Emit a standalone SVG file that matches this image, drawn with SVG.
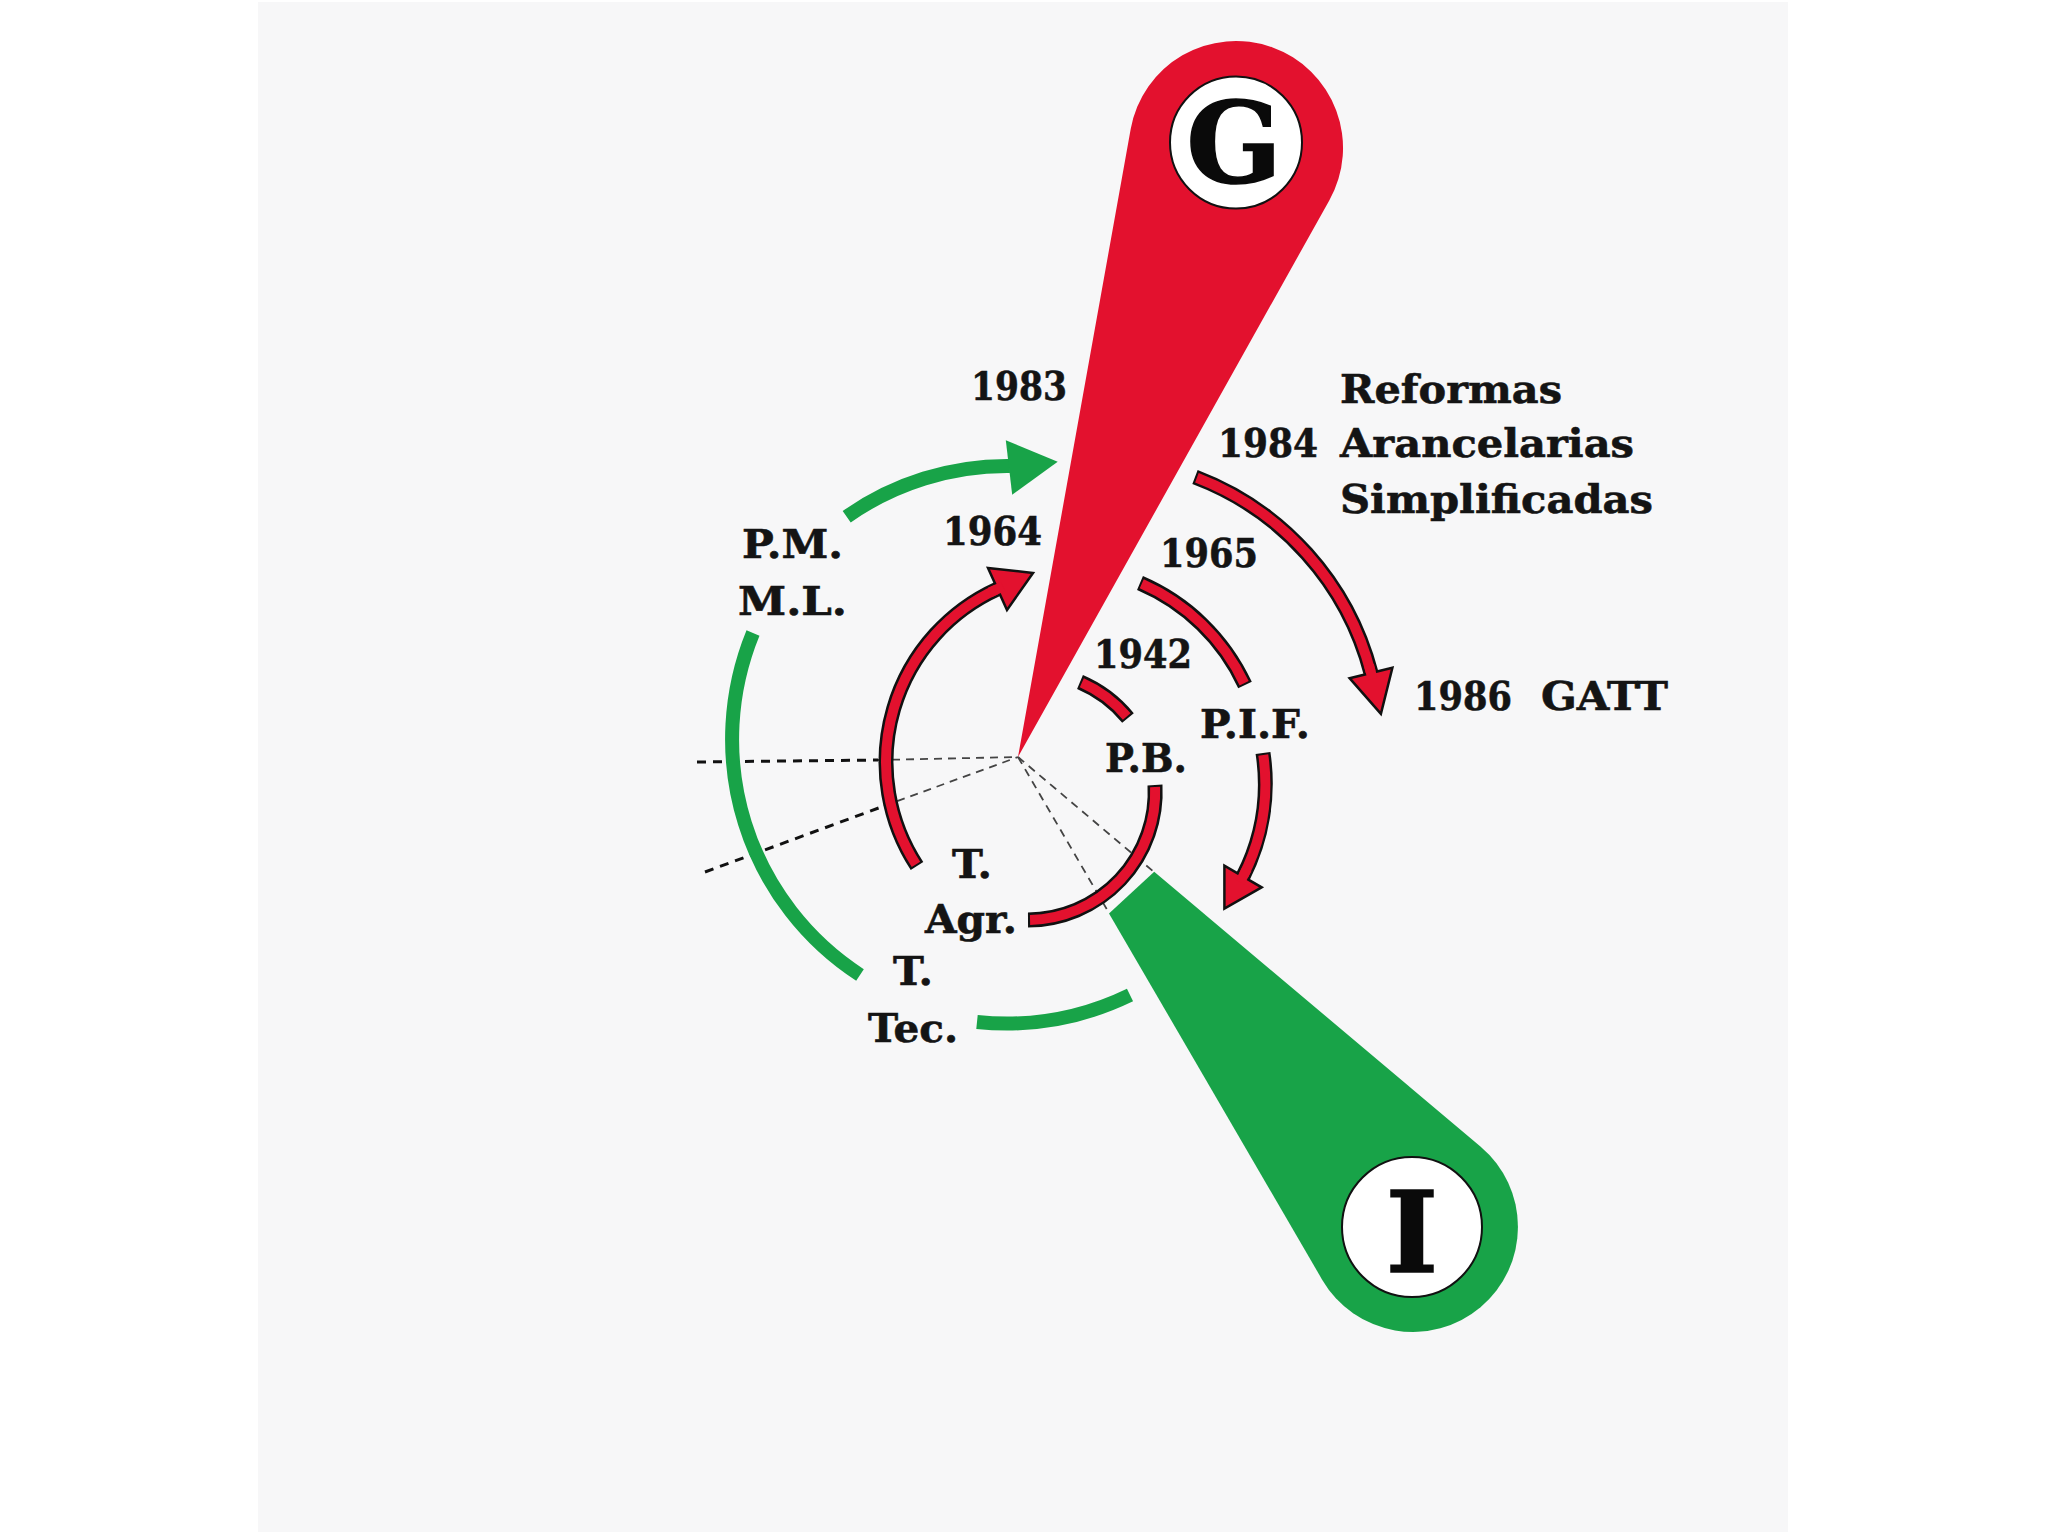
<svg xmlns="http://www.w3.org/2000/svg" width="2048" height="1536" viewBox="0 0 2048 1536">
<defs>
<style>
.lbl{font-family:"DejaVu Serif","Liberation Serif",serif;font-weight:bold;font-size:40px;fill:#141414;stroke:#141414;stroke-width:0.6}
.big{font-family:"DejaVu Serif","Liberation Serif",serif;font-weight:bold;font-size:112px;fill:#0a0a0a;stroke:#0a0a0a;stroke-width:1.5;text-anchor:middle}
.dashO{fill:none;stroke:#111;stroke-width:3;stroke-dasharray:9 7}
.dashI{fill:none;stroke:#444;stroke-width:1.8;stroke-dasharray:8 6}
.gArc{fill:none;stroke:#18a348;stroke-width:14}
.rOut{fill:none;stroke:#111;stroke-width:15}
.rIn{fill:none;stroke:#e3112e;stroke-width:10}
.rHead{fill:#e3112e;stroke:#111;stroke-width:2.5;stroke-linejoin:miter}
</style>
</defs>
<rect x="0" y="0" width="2048" height="1536" fill="#ffffff"/>
<rect x="258" y="2" width="1530" height="1530" fill="#f7f7f8"/>

<g id="guides">
<path class="dashO" d="M697,762 L878,760"/>
<path class="dashI" d="M878,760 L1018,757"/>
<path class="dashO" d="M705,872 L884,806"/>
<path class="dashI" d="M884,806 L1018,757"/>
<path class="dashI" d="M1018,757 L1109,913"/>
<path class="dashI" d="M1018,757 L1154,872"/>
</g>

<g id="node-I">
<path d="M1109,913.4 L1322.3,1279.9 A105,105 0 1 0 1480.7,1146.7 L1154.2,871.7 Z" fill="#18a348"/>
<circle cx="1412" cy="1227" r="70" fill="#ffffff" stroke="#111" stroke-width="2"/>
<text class="big" x="1412" y="1272">I</text>
</g>

<g id="node-G">
<path d="M1018,757 L1329.4,200.2 A107,107 0 1 0 1130.7,129.1 Z" fill="#e3112e"/>
<circle cx="1236" cy="142.5" r="66" fill="#ffffff" stroke="#111" stroke-width="2"/>
<text class="big" x="1234" y="182">G</text>
</g>

<g id="connectors">
<path class="gArc" d="M846.7,516.7 A279,279 0 0 1 1010,466"/>
<polygon points="1005.8,440.2 1057.7,461.7 1012.2,494.8" fill="#18a348"/>
<path class="gArc" d="M753,633 A281,281 0 0 0 860,975"/>
<path class="gArc" d="M977,1022 A284,284 0 0 0 1130,995"/>

<path class="rOut" d="M917,866 A190,190 0 0 1 997.5,589"/>
<path class="rIn" pathLength="100" stroke-dasharray="0 0.6 100 10" d="M917,866 A190,190 0 0 1 997.5,589"/>
<polygon class="rHead" points="988,568 1033,573 1007,610"/>
<path class="rIn" d="M990,592.4 L1003,586.5"/>

<path class="rOut" d="M1195,477 A287,287 0 0 1 1371,673"/>
<path class="rIn" pathLength="100" stroke-dasharray="0 0.75 100 10" d="M1195,477 A287,287 0 0 1 1371,673"/>
<polygon class="rHead" points="1349.6,678.2 1392.4,667.8 1380.9,713.8"/>
<path class="rIn" d="M1369,665 L1372.5,679"/>

<path class="rOut" d="M1140,583 A204,204 0 0 1 1245,685"/>
<path class="rIn" pathLength="100" stroke-dasharray="0 1.3 97.4 10" d="M1140,583 A204,204 0 0 1 1245,685"/>
<path class="rOut" d="M1263,753 A205,205 0 0 1 1243,876.5"/>
<path class="rIn" pathLength="100" stroke-dasharray="0 1.6 100 10" d="M1263,753 A205,205 0 0 1 1243,876.5"/>
<polygon class="rHead" points="1261.6,887.3 1224.4,908.5 1224.4,865.7"/>
<path class="rIn" d="M1247,869 L1240,882"/>

<path class="rOut" d="M1080,682 A125,125 0 0 1 1128,718"/>
<path class="rIn" pathLength="100" stroke-dasharray="0 3.3 93.4 10" d="M1080,682 A125,125 0 0 1 1128,718"/>
<path class="rOut" d="M1155,785 A128,128 0 0 1 1028,920"/>
<path class="rIn" pathLength="100" stroke-dasharray="0 1 98 10" d="M1155,785 A128,128 0 0 1 1028,920"/>
</g>

<g id="labels">
<text class="lbl" x="971" y="400" textLength="96" lengthAdjust="spacingAndGlyphs">1983</text>
<text class="lbl" x="1218" y="457" textLength="100" lengthAdjust="spacingAndGlyphs">1984</text>
<text class="lbl" x="1340" y="403" textLength="222" lengthAdjust="spacingAndGlyphs">Reformas</text>
<text class="lbl" x="1340" y="457" textLength="294" lengthAdjust="spacingAndGlyphs">Arancelarias</text>
<text class="lbl" x="1340" y="513" textLength="313" lengthAdjust="spacingAndGlyphs">Simplificadas</text>
<text class="lbl" x="943" y="545" textLength="99" lengthAdjust="spacingAndGlyphs">1964</text>
<text class="lbl" x="1160" y="567" textLength="98" lengthAdjust="spacingAndGlyphs">1965</text>
<text class="lbl" x="1094" y="668" textLength="98" lengthAdjust="spacingAndGlyphs">1942</text>
<text class="lbl" x="1414" y="710" textLength="98" lengthAdjust="spacingAndGlyphs">1986</text>
<text class="lbl" x="1541" y="710" textLength="127" lengthAdjust="spacingAndGlyphs">GATT</text>
<text class="lbl" x="1200" y="738" textLength="110" lengthAdjust="spacingAndGlyphs">P.I.F.</text>
<text class="lbl" x="1105" y="772" textLength="82" lengthAdjust="spacingAndGlyphs">P.B.</text>
<text class="lbl" x="742" y="558" textLength="101" lengthAdjust="spacingAndGlyphs">P.M.</text>
<text class="lbl" x="738" y="615" textLength="109" lengthAdjust="spacingAndGlyphs">M.L.</text>
<text class="lbl" x="952" y="878" textLength="40" lengthAdjust="spacingAndGlyphs">T.</text>
<text class="lbl" x="925" y="933" textLength="92" lengthAdjust="spacingAndGlyphs">Agr.</text>
<text class="lbl" x="893" y="985" textLength="40" lengthAdjust="spacingAndGlyphs">T.</text>
<text class="lbl" x="868" y="1042" textLength="90" lengthAdjust="spacingAndGlyphs">Tec.</text>
</g>
</svg>
